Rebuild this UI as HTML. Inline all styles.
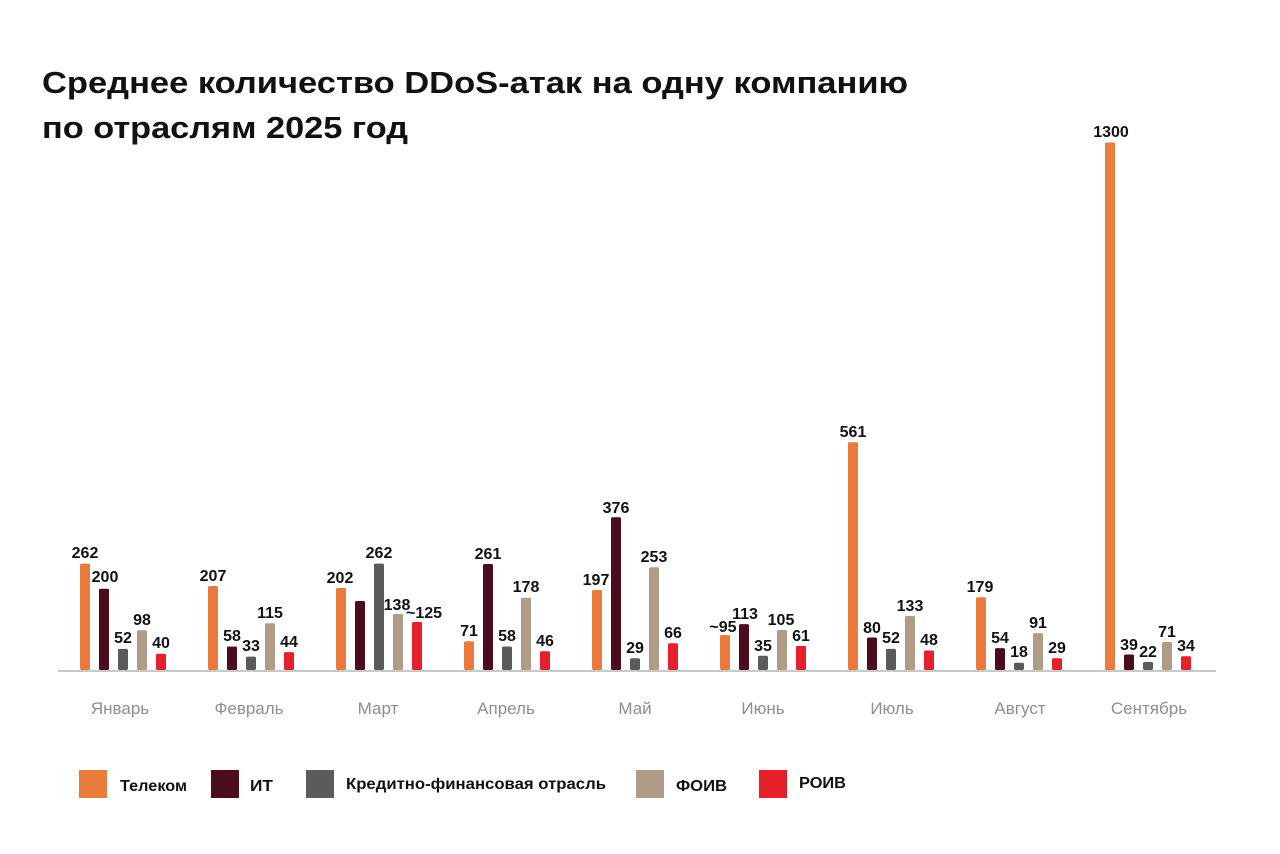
<!DOCTYPE html>
<html>
<head>
<meta charset="utf-8">
<style>
  html, body { margin:0; padding:0; background:#ffffff; }
  body { width:1280px; height:854px; overflow:hidden; }
  svg { display:block; }
  .t { font-family:"Liberation Sans", Arial, sans-serif; font-weight:bold; fill:#111; }
  .v { font-family:"Liberation Sans", Arial, sans-serif; font-weight:bold; font-size:16px; fill:#111; text-anchor:middle; }
  .m { font-family:"Liberation Sans", Arial, sans-serif; font-size:17px; fill:#8e8e8e; text-anchor:middle; }
  .l { font-family:"Liberation Sans", Arial, sans-serif; font-weight:bold; font-size:16px; fill:#111; }
  .o { fill:#E97B3C; } .r { fill:#4B0D1C; } .g { fill:#5B5B5B; } .b { fill:#B09B86; } .d { fill:#E5202A; }
</style>
</head>
<body>
<svg width="1280" height="854" viewBox="0 0 1280 854" xmlns="http://www.w3.org/2000/svg">
  <rect width="1280" height="854" fill="#ffffff"/>

  <!-- Title -->
  <text class="t" x="42" y="93" font-size="31" textLength="866" lengthAdjust="spacingAndGlyphs">Среднее количество DDoS-атак на одну компанию</text>
  <text class="t" x="42" y="138" font-size="31" textLength="366" lengthAdjust="spacingAndGlyphs">по отраслям 2025 год</text>

  <!-- Axis -->
  <rect x="58" y="670" width="1158" height="2" fill="#C8C8C8"/>

  <!-- January (x0=80) -->
  <rect class="o" x="80" y="563.6" width="10" height="106.4" rx="1.5"/>
  <rect class="r" x="99" y="588.8" width="10" height="81.2" rx="1.5"/>
  <rect class="g" x="118" y="648.9" width="10" height="21.1" rx="1.5"/>
  <rect class="b" x="137" y="630.2" width="10" height="39.8" rx="1.5"/>
  <rect class="d" x="156" y="653.8" width="10" height="16.2" rx="1.5"/>
  <text class="v" x="85" y="558">262</text>
  <text class="v" x="105" y="582">200</text>
  <text class="v" x="123" y="643">52</text>
  <text class="v" x="142" y="625">98</text>
  <text class="v" x="161" y="648">40</text>

  <!-- February (x0=208) -->
  <rect class="o" x="208" y="586" width="10" height="84" rx="1.5"/>
  <rect class="r" x="227" y="646.5" width="10" height="23.5" rx="1.5"/>
  <rect class="g" x="246" y="656.6" width="10" height="13.4" rx="1.5"/>
  <rect class="b" x="265" y="623.3" width="10" height="46.7" rx="1.5"/>
  <rect class="d" x="284" y="652.1" width="10" height="17.9" rx="1.5"/>
  <text class="v" x="213" y="581">207</text>
  <text class="v" x="232" y="641">58</text>
  <text class="v" x="251" y="651">33</text>
  <text class="v" x="270" y="618">115</text>
  <text class="v" x="289" y="647">44</text>

  <!-- March (x0=336) -->
  <rect class="o" x="336" y="588" width="10" height="82" rx="1.5"/>
  <rect class="r" x="355" y="601" width="10" height="69" rx="1.5"/>
  <rect class="g" x="374" y="563.6" width="10" height="106.4" rx="1.5"/>
  <rect class="b" x="393" y="614" width="10" height="56" rx="1.5"/>
  <rect class="d" x="412" y="622" width="10" height="48" rx="1.5"/>
  <text class="v" x="340" y="583">202</text>
  <text class="v" x="379" y="558">262</text>
  <text class="v" x="397" y="610">138</text>
  <text class="v" x="424" y="618">~125</text>

  <!-- April (x0=464) -->
  <rect class="o" x="464" y="641.2" width="10" height="28.8" rx="1.5"/>
  <rect class="r" x="483" y="564" width="10" height="106" rx="1.5"/>
  <rect class="g" x="502" y="646.5" width="10" height="23.5" rx="1.5"/>
  <rect class="b" x="521" y="597.7" width="10" height="72.3" rx="1.5"/>
  <rect class="d" x="540" y="651.3" width="10" height="18.7" rx="1.5"/>
  <text class="v" x="469" y="636">71</text>
  <text class="v" x="488" y="559">261</text>
  <text class="v" x="507" y="641">58</text>
  <text class="v" x="526" y="592">178</text>
  <text class="v" x="545" y="646">46</text>

  <!-- May (x0=592) -->
  <rect class="o" x="592" y="590" width="10" height="80" rx="1.5"/>
  <rect class="r" x="611" y="517.3" width="10" height="152.7" rx="1.5"/>
  <rect class="g" x="630" y="658.2" width="10" height="11.8" rx="1.5"/>
  <rect class="b" x="649" y="567.3" width="10" height="102.7" rx="1.5"/>
  <rect class="d" x="668" y="643.2" width="10" height="26.8" rx="1.5"/>
  <text class="v" x="596" y="585">197</text>
  <text class="v" x="616" y="513">376</text>
  <text class="v" x="635" y="653">29</text>
  <text class="v" x="654" y="562">253</text>
  <text class="v" x="673" y="638">66</text>

  <!-- June (x0=720) -->
  <rect class="o" x="720" y="635" width="10" height="35" rx="1.5"/>
  <rect class="r" x="739" y="624.1" width="10" height="45.9" rx="1.5"/>
  <rect class="g" x="758" y="655.8" width="10" height="14.2" rx="1.5"/>
  <rect class="b" x="777" y="630" width="10" height="40" rx="1.5"/>
  <rect class="d" x="796" y="646" width="10" height="24" rx="1.5"/>
  <text class="v" x="723" y="632">~95</text>
  <text class="v" x="745" y="619">113</text>
  <text class="v" x="763" y="651">35</text>
  <text class="v" x="781" y="625">105</text>
  <text class="v" x="801" y="641">61</text>

  <!-- July (x0=848) -->
  <rect class="o" x="848" y="442.2" width="10" height="227.8" rx="1.5"/>
  <rect class="r" x="867" y="637.5" width="10" height="32.5" rx="1.5"/>
  <rect class="g" x="886" y="648.9" width="10" height="21.1" rx="1.5"/>
  <rect class="b" x="905" y="616" width="10" height="54" rx="1.5"/>
  <rect class="d" x="924" y="650.5" width="10" height="19.5" rx="1.5"/>
  <text class="v" x="853" y="437">561</text>
  <text class="v" x="872" y="633">80</text>
  <text class="v" x="891" y="643">52</text>
  <text class="v" x="910" y="611">133</text>
  <text class="v" x="929" y="645">48</text>

  <!-- August (x0=976) -->
  <rect class="o" x="976" y="597.3" width="10" height="72.7" rx="1.5"/>
  <rect class="r" x="995" y="648.1" width="10" height="21.9" rx="1.5"/>
  <rect class="g" x="1014" y="662.7" width="10" height="7.3" rx="1.5"/>
  <rect class="b" x="1033" y="633.1" width="10" height="36.9" rx="1.5"/>
  <rect class="d" x="1052" y="658.2" width="10" height="11.8" rx="1.5"/>
  <text class="v" x="980" y="592">179</text>
  <text class="v" x="1000" y="643">54</text>
  <text class="v" x="1019" y="657">18</text>
  <text class="v" x="1038" y="628">91</text>
  <text class="v" x="1057" y="653">29</text>

  <!-- September (x0=1104) -->
  <rect class="o" x="1105" y="142.5" width="10" height="527.5" rx="1.5"/>
  <rect class="r" x="1124" y="654.5" width="10" height="15.5" rx="1.5"/>
  <rect class="g" x="1143" y="662" width="10" height="8" rx="1.5"/>
  <rect class="b" x="1162" y="642" width="10" height="28" rx="1.5"/>
  <rect class="d" x="1181" y="656.2" width="10" height="13.8" rx="1.5"/>
  <text class="v" x="1111" y="137">1300</text>
  <text class="v" x="1129" y="650">39</text>
  <text class="v" x="1148" y="657">22</text>
  <text class="v" x="1167" y="637">71</text>
  <text class="v" x="1186" y="651">34</text>

  <!-- Month labels -->
  <text class="m" x="120" y="714">Январь</text>
  <text class="m" x="249" y="714">Февраль</text>
  <text class="m" x="378" y="714">Март</text>
  <text class="m" x="506" y="714">Апрель</text>
  <text class="m" x="635" y="714">Май</text>
  <text class="m" x="763" y="714">Июнь</text>
  <text class="m" x="892" y="714">Июль</text>
  <text class="m" x="1020" y="714">Август</text>
  <text class="m" x="1149" y="714">Сентябрь</text>

  <!-- Legend -->
  <rect class="o" x="79" y="770" width="28" height="28"/>
  <text class="l" x="120" y="791" textLength="67" lengthAdjust="spacingAndGlyphs">Телеком</text>
  <rect class="r" x="211" y="770" width="28" height="28"/>
  <text class="l" x="250" y="791" textLength="23" lengthAdjust="spacingAndGlyphs">ИТ</text>
  <rect class="g" x="306" y="770" width="28" height="28"/>
  <text class="l" x="346" y="789" textLength="260" lengthAdjust="spacingAndGlyphs">Кредитно-финансовая отрасль</text>
  <rect class="b" x="636" y="770" width="28" height="28"/>
  <text class="l" x="676" y="791" textLength="51" lengthAdjust="spacingAndGlyphs">ФОИВ</text>
  <rect class="d" x="759" y="770" width="28" height="28"/>
  <text class="l" x="799" y="788" textLength="47" lengthAdjust="spacingAndGlyphs">РОИВ</text>
</svg>
</body>
</html>
